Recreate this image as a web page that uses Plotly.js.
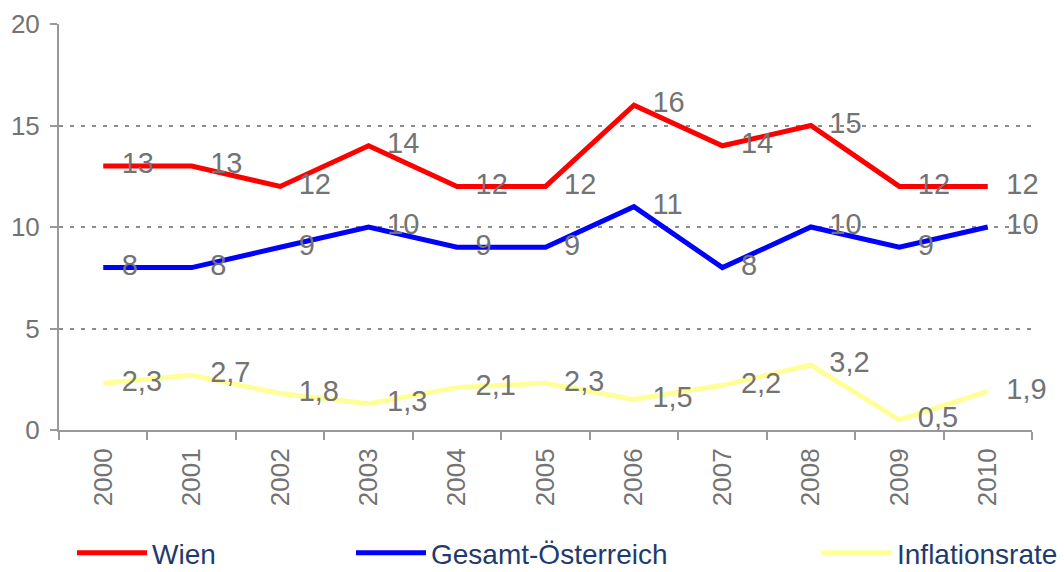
<!DOCTYPE html>
<html>
<head>
<meta charset="utf-8">
<script src="https://cdn.plot.ly/plotly-3.0.1.min.js"></script>
<style>html,body{margin:0;padding:0;background:#fff;}#chart{width:1064px;height:572px;}</style>
</head>
<body>
<div id="chart"></div>
<script>
const years = ['2000','2001','2002','2003','2004','2005','2006','2007','2008','2009','2010'];
const wien = [13,13,12,14,12,12,16,14,15,12,12];
const oesterreich = [8,8,9,10,9,9,11,8,10,9,10];
const inflation = [2.3,2.7,1.8,1.3,2.1,2.3,1.5,2.2,3.2,0.5,1.9];
const seriesNames = ['Wien','Gesamt-Österreich','Inflationsrate'];
const seriesColors = ['#ff0000','#0000ff','#ffff99'];

const fmt = v => String(v).replace('.', ',');
const labelFont = {family:'Liberation Sans, Arial, sans-serif', size:29, color:'#737373'};

function mk(vals, i, legendId){
  return {
    type:'scatter', mode:'lines+markers+text', x:years, y:vals,
    name:seriesNames[i], legend:legendId,
    line:{color:seriesColors[i], width:5},
    marker:{size:28, color:'rgba(0,0,0,0)'},
    text:vals.map(fmt), textposition:'middle right', textfont:labelFont,
    hoverinfo:'x+y', cliponaxis:false
  };
}
const data = [mk(wien,0,'legend'), mk(oesterreich,1,'legend2'), mk(inflation,2,'legend3')];

const legFont = {family:'Liberation Sans, Arial, sans-serif', size:28, color:'#1f3a6e'};
function leg(px){return {x:px/1064, y:(572-553)/572, xref:'container', yref:'container', xanchor:'left', yanchor:'middle', orientation:'h', font:legFont, bgcolor:'rgba(0,0,0,0)', itemwidth:70};}

const tickFont = {family:'Liberation Sans, Arial, sans-serif', size:26, color:'#737373'};
const layout = {
  width:1064, height:572,
  margin:{l:59, r:32, t:24, b:142, autoexpand:false},
  paper_bgcolor:'#ffffff', plot_bgcolor:'#ffffff',
  showlegend:true,
  legend:leg(72), legend2:leg(351), legend3:leg(817),
  xaxis:{type:'category', range:[-0.5,10.5], tickangle:-90, showgrid:false,
    tickson:'boundaries', ticks:'outside', ticklen:8, tickwidth:2, tickcolor:'#999999',
    showline:true, linecolor:'#999999', linewidth:2, ticklabelstandoff:6,
    tickfont:tickFont, fixedrange:true, automargin:false},
  yaxis:{range:[0,20], dtick:5, tick0:0, ticks:'outside', ticklen:7, tickwidth:2, tickcolor:'#999999',
    showline:true, linecolor:'#999999', linewidth:2, zeroline:false, ticklabelstandoff:5,
    showgrid:true, gridcolor:'#8c8c8c', gridwidth:2, griddash:'4px,7px',
    tickfont:tickFont, fixedrange:true, automargin:false}
};
Plotly.newPlot('chart', data, layout, {displayModeBar:false, staticPlot:true});
</script>
</body>
</html>
